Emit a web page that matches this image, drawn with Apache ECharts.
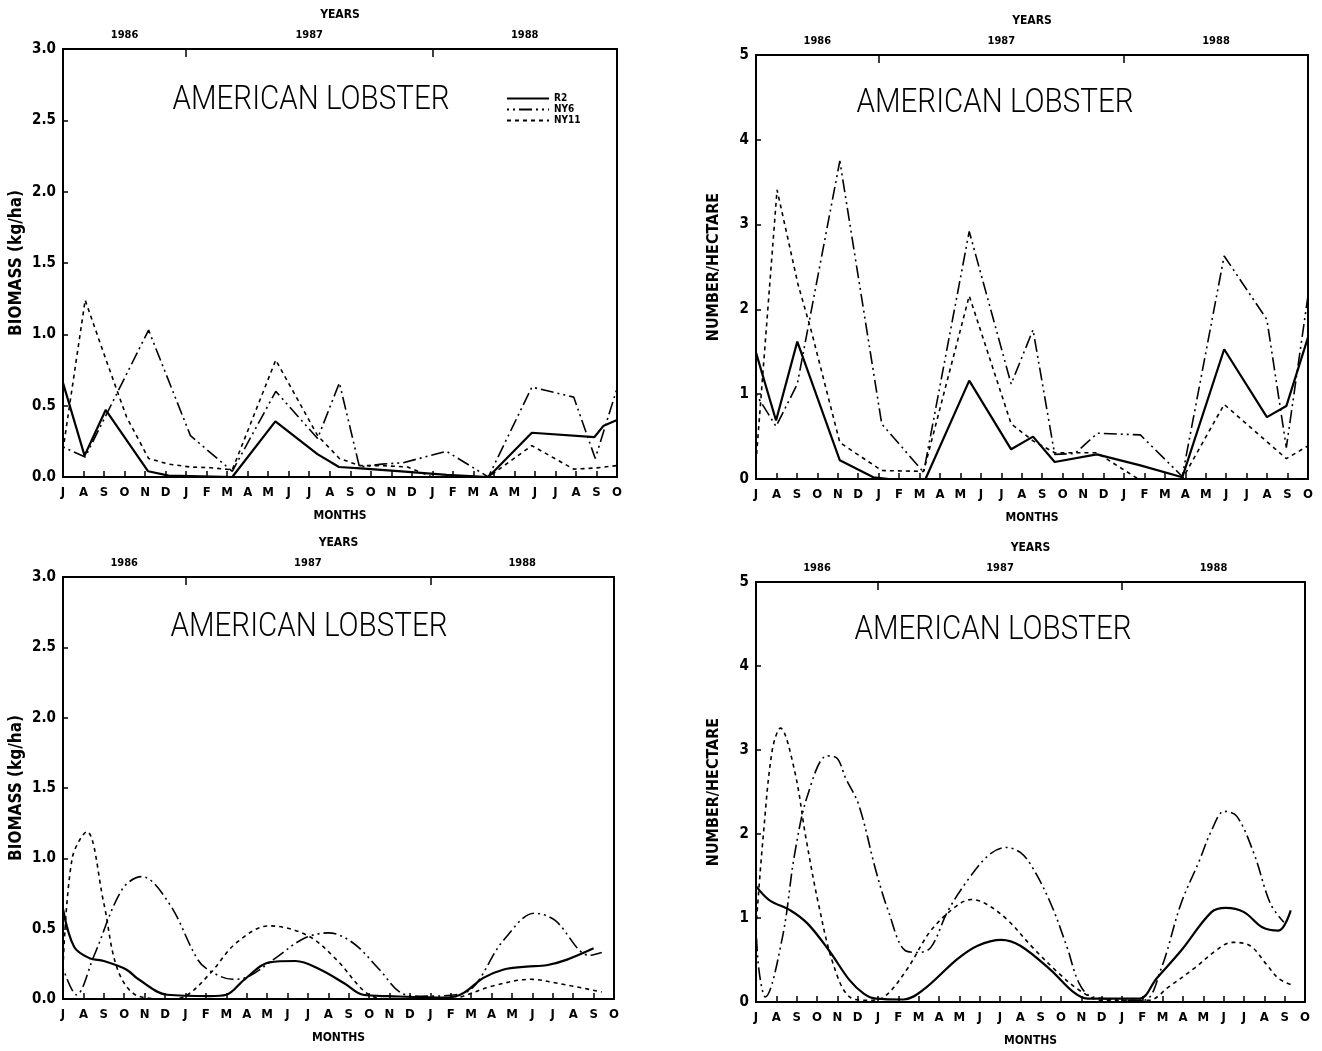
<!DOCTYPE html>
<html><head><meta charset="utf-8">
<script src="https://cdn.jsdelivr.net/npm/echarts/dist/echarts.min.js"></script>
<style>html,body{margin:0;padding:0;background:#fff}#c{width:1322px;height:1051px}</style>
</head><body><div id="c"></div>
<script>
// ---- axis labels ----
const monthLabels = ['J','A','S','O','N','D','J','F','M','A','M','J','J','A','S','O','N','D','J','F','M','A','M','J','J','A','S','O'];
const yearLabels = ['1986','1987','1988'];
const numberTickLabels = ['0','1','2','3','4','5'];
const seriesNames = ['R2','NY6','NY11'];
const panelTitle = 'AMERICAN LOBSTER';

// ---- data: [month index from Jul 1986, value] ----
// top-left: biomass (kg/ha)
const tlR2 = [[0,0.66],[1.05,0.15],[2.08,0.47],[4.15,0.04],[5.15,0.01],[8.25,0],[10.35,0.39],[12.4,0.16],[13.45,0.07],[14.5,0.06],[16.5,0.04],[18.7,0.015],[20.73,0],[22.85,0.31],[25.9,0.28],[26.35,0.36],[27,0.40]];
const tlNY6 = [[0,0.21],[1.08,0.14],[4.17,1.03],[6.21,0.29],[8.25,0.04],[10.37,0.6],[12.41,0.27],[13.47,0.66],[14.45,0.07],[15.54,0.09],[16.57,0.1],[18.69,0.18],[20.73,0],[22.85,0.63],[24.89,0.56],[25.94,0.13],[27,0.62]];
const tlNY11 = [[0,0.19],[1.08,1.24],[2.1,0.82],[3.1,0.42],[4.17,0.13],[5.15,0.09],[6.21,0.07],[7.2,0.065],[8.25,0.05],[10.37,0.82],[12.41,0.29],[13.47,0.13],[14.45,0.08],[15.54,0.08],[16.8,0.07],[18,0],[20.73,0],[22.85,0.22],[24.89,0.055],[25.94,0.063],[27,0.08]];
// top-right: number / hectare
const trR2 = [[0,1.49],[0.98,0.69],[2.02,1.62],[4.1,0.22],[5.74,0.02],[6.5,0],[8.29,0],[10.43,1.16],[12.48,0.35],[13.55,0.5],[14.61,0.2],[16.67,0.29],[18.8,0.16],[20.85,0.02],[22.9,1.53],[24.99,0.73],[25.94,0.86],[27,1.67]];
const trNY6 = [[0,1.0],[0.98,0.62],[2.02,1.12],[4.1,3.75],[6.15,0.65],[8.2,0.08],[10.43,2.92],[12.48,1.12],[13.55,1.76],[14.61,0.29],[15.6,0.3],[16.7,0.54],[18.8,0.52],[20.85,0.03],[22.9,2.63],[24.99,1.88],[25.94,0.37],[27,2.16]];
const trNY11 = [[0,0.2],[1.03,3.41],[2.05,2.3],[2.7,1.75],[4.1,0.43],[6.15,0.1],[8.2,0.09],[10.43,2.16],[12.48,0.65],[13.55,0.45],[14.61,0.31],[16.67,0.31],[18.7,0],[20.85,0],[22.9,0.88],[25.94,0.24],[27,0.39]];
// bottom-left: biomass (kg/ha), smoothed
const blR2 = [[0,0.64],[0.55,0.37],[1.3,0.29],[2,0.27],[3.1,0.21],[3.7,0.14],[5.1,0.03],[7.2,0.02],[8,0.03],[8.9,0.14],[10.1,0.26],[11.4,0.27],[12.6,0.21],[13.8,0.11],[14.7,0.03],[16,0.02],[18.8,0.01],[19.6,0.04],[20.6,0.15],[21.6,0.21],[22.7,0.23],[23.7,0.24],[24.7,0.28],[26,0.36]];
const blNY6 = [[0,0.22],[0.66,0.03],[1.5,0.3],[2.9,0.78],[3.85,0.87],[5.2,0.68],[6.6,0.28],[7.2,0.2],[8.3,0.14],[9.1,0.16],[10.5,0.3],[11.8,0.43],[13,0.47],[14.2,0.4],[15.5,0.21],[16.6,0.04],[17.5,0.02],[19.6,0.04],[21.6,0.42],[23.1,0.61],[24.1,0.56],[25.8,0.31],[26.4,0.33]];
const blNY11 = [[0,0.22],[0.45,1.0],[1.17,1.19],[2,0.68],[2.7,0.2],[3.7,0.02],[5.2,0.0],[6,0.02],[7.2,0.18],[8.5,0.4],[10.1,0.52],[12,0.45],[13.4,0.28],[14.9,0.04],[16,0],[19,0],[19.6,0.02],[21,0.09],[22.9,0.14],[24.3,0.11],[26.4,0.05]];
// bottom-right: number / hectare, smoothed
const brR2 = [[0,1.38],[0.67,1.21],[1.7,1.09],[2.55,0.93],[3.6,0.61],[4.6,0.26],[5.3,0.1],[5.9,0.04],[7.25,0.03],[8.2,0.14],[9.9,0.51],[10.9,0.67],[12.06,0.74],[13,0.67],[14.5,0.38],[15.6,0.12],[16.3,0.04],[18.85,0.04],[19.7,0.28],[20.9,0.61],[22.4,1.07],[23.1,1.12],[24,1.07],[24.9,0.89],[25.7,0.85],[26.3,1.09]];
const brNY6 = [[0,0.9],[0.15,0.37],[0.46,0.06],[1.3,0.77],[1.9,1.76],[2.55,2.47],[3.5,2.93],[4.0,2.9],[4.4,2.67],[5.05,2.35],[5.9,1.56],[6.5,1.09],[7.35,0.61],[8,0.59],[8.6,0.65],[9.45,1.09],[10.5,1.48],[11.5,1.76],[12.3,1.84],[13,1.78],[13.6,1.6],[14.5,1.17],[15.3,0.65],[15.9,0.22],[16.55,0.06],[19.06,0.02],[19.9,0.38],[20.9,1.17],[21.8,1.68],[22.4,2.04],[23.03,2.27],[23.65,2.21],[24.5,1.76],[25.3,1.17],[25.96,0.95]];
const brNY11 = [[0,0.89],[0.35,1.96],[0.8,3.0],[1.2,3.26],[1.9,2.75],[2.45,1.96],[3.07,1.17],[3.8,0.45],[4.6,0.06],[5.5,0.02],[6.3,0.06],[7.4,0.38],[8.6,0.85],[9.9,1.15],[10.6,1.22],[11.3,1.17],[12.4,0.97],[13.6,0.65],[14.9,0.34],[15.9,0.14],[17,0.02],[19.3,0.02],[20.3,0.18],[21.6,0.41],[22.6,0.61],[23.4,0.71],[24.3,0.67],[25.1,0.45],[25.7,0.28],[26.4,0.2]];

// ---- derived year structure ----
const lastIdx = monthLabels.length - 1;
const yearBounds = [0];
for (let i = 1; i < monthLabels.length; i++) if (monthLabels[i] === 'J' && monthLabels[i-1] === 'D') yearBounds.push(i);
yearBounds.push(lastIdx);
const yearCenters = yearLabels.map((_, i) => (yearBounds[i] + yearBounds[i+1]) / 2);

// ---- styling ----
const FONT = "'DejaVu Sans Condensed','DejaVu Sans',sans-serif";
const TITLE_FONT = "300 34px Roboto, 'Open Sans', sans-serif";
const TITLE_WIDTH = 277;
const BLACK = '#000';
const styles = {
  R2:   {width: 2.2, type: 'solid'},
  NY6:  {width: 1.6, type: [2, 4, 2, 4, 13, 4]},
  NY11: {width: 1.6, type: [4, 4]}
};

// measure title to condense it horizontally like the plotter lettering
const mctx = document.createElement('canvas').getContext('2d');
mctx.font = TITLE_FONT;
const titleScaleX = TITLE_WIDTH / mctx.measureText(panelTitle).width;

const panels = [
  {grid:{left:63, top:49, width:554, height:428}, yMax:3, yInt:0.5, yFmt:v=>v.toFixed(1), yName:'BIOMASS (kg/ha)', nameSize:17, smooth:false, data:[tlR2,tlNY6,tlNY11], title:[311,100]},
  {grid:{left:756, top:55, width:552, height:424}, yMax:5, yInt:1, yFmt:v=>numberTickLabels[Math.round(v)], yName:'NUMBER/HECTARE', nameSize:16, smooth:false, data:[trR2,trNY6,trNY11], title:[995,103]},
  {grid:{left:63, top:577, width:551, height:422}, yMax:3, yInt:0.5, yFmt:v=>v.toFixed(1), yName:'BIOMASS (kg/ha)', nameSize:17, smooth:true, data:[blR2,blNY6,blNY11], title:[309,627]},
  {grid:{left:756, top:582, width:549, height:420}, yMax:5, yInt:1, yFmt:v=>numberTickLabels[Math.round(v)], yName:'NUMBER/HECTARE', nameSize:16, smooth:true, data:[brR2,brNY6,brNY11], title:[993,630]}
];

const grid = [], xAxis = [], yAxis = [], series = [], graphic = [];
panels.forEach((p, i) => {
  grid.push(Object.assign({show:true, borderColor:BLACK, borderWidth:2, backgroundColor:'transparent'}, p.grid));
  xAxis.push({
    type:'value', gridIndex:i, min:0, max:lastIdx, interval:1, position:'bottom',
    axisLine:{show:true, onZero:false, lineStyle:{color:BLACK, width:2}},
    axisTick:{show:true, inside:true, length:6, lineStyle:{color:BLACK, width:1.5}},
    axisLabel:{formatter:v=>monthLabels[Math.round(v)], color:BLACK, fontSize:13, fontWeight:'bold', fontFamily:FONT, margin:9},
    splitLine:{show:false},
    name:'MONTHS', nameLocation:'middle', nameGap:33,
    nameTextStyle:{color:BLACK, fontSize:12, fontWeight:'bold', fontFamily:FONT}
  });
  xAxis.push({
    type:'value', gridIndex:i, min:0, max:lastIdx, position:'top',
    axisLine:{show:true, onZero:false, lineStyle:{color:BLACK, width:2}},
    axisTick:{show:true, inside:true, length:8, customValues:yearBounds.slice(1,-1), lineStyle:{color:BLACK, width:1.5}},
    axisLabel:{customValues:yearCenters, formatter:v=>yearLabels[yearCenters.indexOf(v)], color:BLACK, fontSize:11, fontWeight:'bold', fontFamily:FONT, margin:8},
    splitLine:{show:false},
    name:'YEARS', nameLocation:'middle', nameGap:28,
    nameTextStyle:{color:BLACK, fontSize:12, fontWeight:'bold', fontFamily:FONT}
  });
  yAxis.push({
    type:'value', gridIndex:i, min:0, max:p.yMax, interval:p.yInt,
    axisLine:{show:true, onZero:false, lineStyle:{color:BLACK, width:2}},
    axisTick:{show:true, inside:true, length:5, lineStyle:{color:BLACK, width:1.5}},
    axisLabel:{formatter:p.yFmt, color:BLACK, fontSize:15, fontWeight:'bold', fontFamily:FONT, margin:7},
    splitLine:{show:false},
    name:p.yName, nameLocation:'middle', nameGap: p.yMax === 3 ? 38 : 34,
    nameTextStyle:{color:BLACK, fontSize:p.nameSize, fontWeight:'bold', fontFamily:FONT}
  });
  seriesNames.forEach((nm, k) => {
    series.push({
      name:nm, type:'line', xAxisIndex:2*i, yAxisIndex:i, data:p.data[k],
      symbol:'none', showSymbol:false, smooth:p.smooth ? 0.35 : false, clip:true,
      lineStyle:{color:BLACK, width:styles[nm].width, type:styles[nm].type},
      itemStyle:{color:BLACK}, z:3
    });
  });
  graphic.push({type:'text', x:p.title[0], y:p.title[1], scaleX:titleScaleX,
    style:{text:panelTitle, fill:BLACK, font:TITLE_FONT, textAlign:'center', textVerticalAlign:'middle'}});
});

const chart = echarts.init(document.getElementById('c'), null, {renderer:'canvas'});
chart.setOption({
  animation:false,
  backgroundColor:'#fff',
  grid, xAxis, yAxis, series, graphic,
  legend:{
    data:seriesNames, left:501, top:88, orient:'vertical', itemWidth:42, itemHeight:8, itemGap:0,
    selectedMode:false,
    itemStyle:{color:'rgba(0,0,0,0)', borderWidth:0, opacity:0},
    textStyle:{color:BLACK, fontSize:10, lineHeight:11, fontWeight:'bold', fontFamily:FONT}
  }
});
</script></body></html>
